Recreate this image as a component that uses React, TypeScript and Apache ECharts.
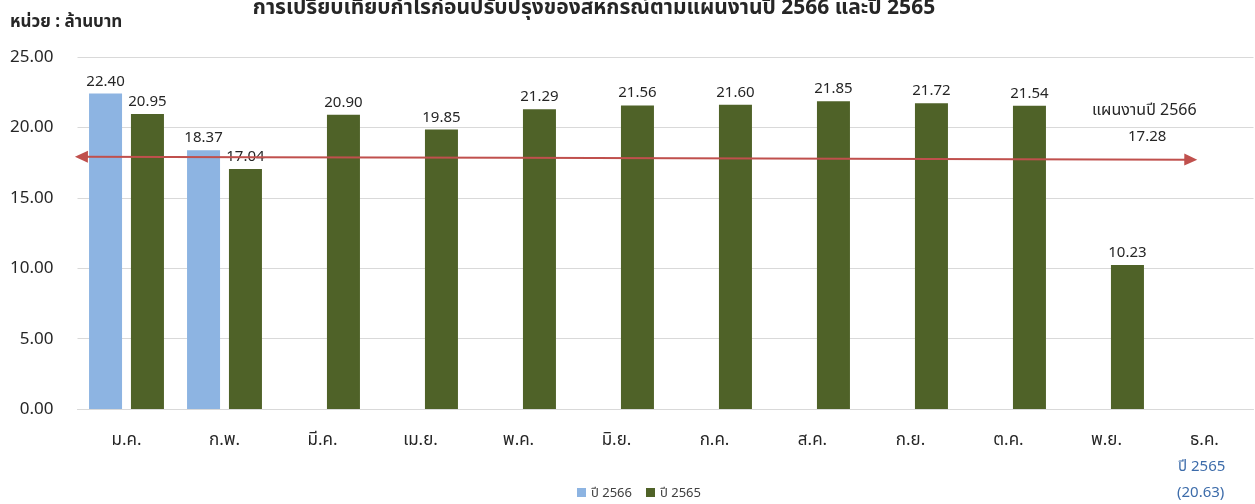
import React, { useEffect, useRef } from "react";
import * as echarts from "echarts";

const categories = ["ม.ค.", "ก.พ.", "มี.ค.", "เม.ย.", "พ.ค.", "มิ.ย.", "ก.ค.", "ส.ค.", "ก.ย.", "ต.ค.", "พ.ย.", "ธ.ค."];
const values2566: (number | null)[] = [22.4, 18.37, null, null, null, null, null, null, null, null, null, null];
const values2565: (number | null)[] = [20.95, 17.04, 20.9, 19.85, 21.29, 21.56, 21.6, 21.85, 21.72, 21.54, 10.23, null];
const seriesNames = ["ปี 2566", "ปี 2565"];
const yTicks = { min: 0, max: 25, interval: 5 };
const planLabel = "แผนงานปี 2566";
const planValue = 17.28;
// arrow drawn slightly above the plan value, as in the reference drawing
const planArrowStart = [-0.46, 17.92];
const planArrowEnd = [10.86, 17.71];
const decemberNoteLabel = "ปี 2565";
const decemberNoteValue = 20.63;

const FONT = "Tahoma, 'Leelawadee UI', 'Noto Sans Thai', 'Noto Sans', 'DejaVu Sans', sans-serif";

export default function App() {
  const ref = useRef<HTMLDivElement>(null);
  useEffect(() => {
    if (!ref.current) return;
    const chart = echarts.init(ref.current, undefined, { renderer: "svg" });
    const fmt = (p: any) => (p.value == null ? "" : Number(p.value).toFixed(2));
    chart.setOption({
      animation: false,
      textStyle: { fontFamily: FONT },
      title: [
        {
          text: "การเปรียบเทียบกำไรก่อนปรับปรุงของสหกรณ์ตามแผนงานปี 2566 และปี 2565",
          left: 589,
          textAlign: "center",
          top: -8,
          textStyle: { fontFamily: FONT, fontSize: 21, fontWeight: "bold", color: "#262626" },
        },
        {
          text: "หน่วย : ล้านบาท",
          left: 5,
          top: 8,
          textStyle: { fontFamily: FONT, fontSize: 17, fontWeight: "bold", color: "#262626" },
        },
      ],
      legend: {
        data: seriesNames,
        icon: "rect",
        itemWidth: 9,
        itemHeight: 9,
        itemGap: 14,
        left: 572,
        top: 481,
        textStyle: { fontFamily: FONT, fontSize: 13, color: "#404040" },
      },
      grid: { left: 77.5, right: 1.5, top: 57, bottom: 95, containLabel: false },
      xAxis: [
        {
          type: "category",
          data: categories,
          axisLine: { lineStyle: { color: "#d9d9d9" } },
          axisTick: { show: false },
          axisLabel: { fontFamily: FONT, fontSize: 17, color: "#262626", margin: 22 },
        },
        { type: "value", min: -0.5, max: 11.5, show: false },
      ],
      yAxis: {
        type: "value",
        min: yTicks.min,
        max: yTicks.max,
        interval: yTicks.interval,
        axisLine: { show: false },
        axisTick: { show: false },
        axisLabel: {
          fontFamily: FONT,
          fontSize: 17,
          color: "#262626",
          margin: 24,
          formatter: (v: number) => v.toFixed(2),
        },
        splitLine: { lineStyle: { color: "#d9d9d9" } },
      },
      series: [
        {
          name: seriesNames[0],
          type: "bar",
          data: values2566,
          barWidth: 33,
          barGap: "27%",
          itemStyle: { color: "#8DB4E2" },
          label: { show: true, position: "top", distance: 5, fontSize: 15, color: "#262626", fontFamily: FONT, formatter: fmt },
        },
        {
          name: seriesNames[1],
          type: "bar",
          data: values2565,
          barWidth: 33,
          barGap: "27%",
          itemStyle: { color: "#4F6228" },
          label: { show: true, position: "top", distance: 5, fontSize: 15, color: "#262626", fontFamily: FONT, formatter: fmt },
        },
        {
          type: "line",
          xAxisIndex: 1,
          data: [],
          silent: true,
          markLine: {
            silent: true,
            symbol: ["triangle", "triangle"],
            symbolSize: [12, 13],
            label: { show: false },
            lineStyle: { color: "#C0504D", width: 2, type: "solid" },
            data: [[{ coord: planArrowStart }, { coord: planArrowEnd }]],
          },
        },
      ],
      graphic: [
        {
          type: "text",
          left: 1092,
          top: 102,
          style: { text: planLabel, fontFamily: FONT, fontSize: 16, fill: "#262626" },
        },
        {
          type: "text",
          left: 1128,
          top: 129,
          style: { text: planValue.toFixed(2), fontFamily: FONT, fontSize: 15, fill: "#262626" },
        },
        {
          type: "text",
          left: 1178,
          top: 459,
          style: { text: decemberNoteLabel, fontFamily: FONT, fontSize: 15, fill: "#3D6CAA" },
        },
        {
          type: "text",
          left: 1177,
          top: 485,
          style: { text: "(" + decemberNoteValue.toFixed(2) + ")", fontFamily: FONT, fontSize: 15, fill: "#3D6CAA" },
        },
      ],
    });
    return () => chart.dispose();
  }, []);
  return <div ref={ref} style={{ position: "fixed", left: 0, top: 0, width: 1255, height: 504 }} />;
}
